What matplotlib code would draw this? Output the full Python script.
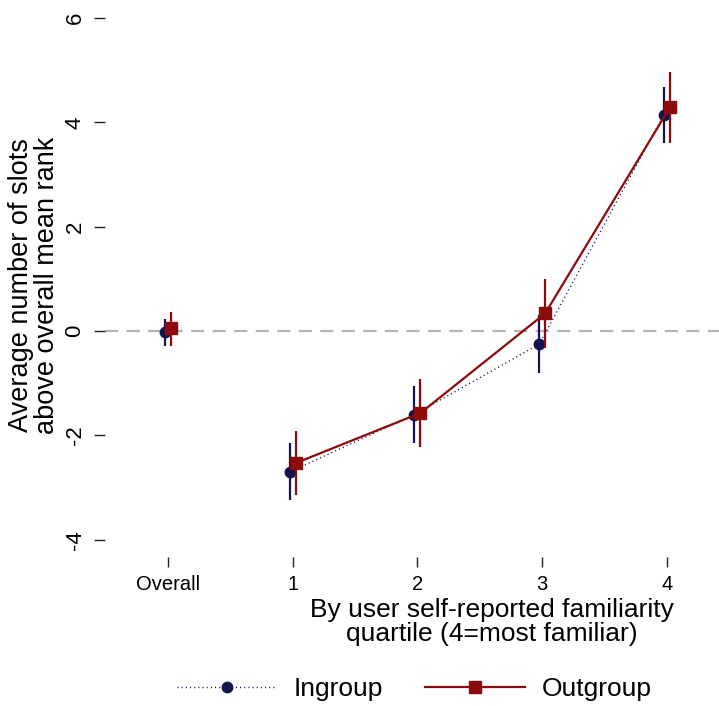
import matplotlib
matplotlib.use("Agg")
import matplotlib.pyplot as plt
from matplotlib.lines import Line2D
import numpy as np

plt.rcParams['font.family'] = ['Liberation Sans', 'DejaVu Sans']
plt.rcParams['lines.scale_dashes'] = False

# Categories: overall estimate plus four familiarity quartiles
categories = ["Overall", "1", "2", "3", "4"]

# Ingroup estimates with 95% confidence bounds
ingroup_mean = [-0.02, -2.70, -1.60, -0.25, 4.15]
ingroup_lo = [-0.29, -3.24, -2.15, -0.80, 3.60]
ingroup_hi = [0.24, -2.15, -1.05, 0.31, 4.68]

# Outgroup estimates with 95% confidence bounds
outgroup_mean = [0.05, -2.53, -1.57, 0.34, 4.29]
outgroup_lo = [-0.29, -3.14, -2.22, -0.33, 3.61]
outgroup_hi = [0.36, -1.92, -0.92, 1.00, 4.97]

yticks = [-4, -2, 0, 2, 4, 6]

NAVY = "#13134f"
MAROON = "#8c0a0a"
GRAY = "#b5b5b5"

W, H = 719, 706
fig = plt.figure(figsize=(W / 100, H / 100), dpi=100)
ax = fig.add_axes([105 / W, (H - 557) / H, (W - 105) / W, 557 / H])

pos = np.arange(len(categories), dtype=float)
off = 0.024
x_in = pos - off
x_out = pos + off

# Reference line at zero
ax.axhline(0, color=GRAY, lw=1.6, ls=(0, (9.5, 6.0)), zorder=1)

# Ingroup: confidence intervals, connecting dotted line over quartiles, markers
ax.vlines(x_in, ingroup_lo, ingroup_hi, color=NAVY, lw=1.6, zorder=2)
ax.plot(x_in[1:], ingroup_mean[1:], color=NAVY, lw=1.0, ls=(0, (0.8, 2.2)), zorder=2)
ax.plot(x_in, ingroup_mean, ls="none", marker="o", ms=7.5, color=NAVY, zorder=3)

# Outgroup: confidence intervals, solid line over quartiles, markers
ax.vlines(x_out, outgroup_lo, outgroup_hi, color=MAROON, lw=1.6, zorder=4)
ax.plot(x_out[1:], outgroup_mean[1:], color=MAROON, lw=1.6, zorder=4)
ax.plot(x_out, outgroup_mean, ls="none", marker="s", ms=8, color=MAROON, zorder=5)

ax.set_xlim(-0.505, 4.417)
ax.set_ylim(-4.33, 6.345)

for s in ax.spines.values():
    s.set_visible(False)

ax.set_xticks(pos)
ax.set_xticklabels(categories, fontsize=14.5)
ax.set_yticks(yticks)
ax.set_yticklabels([str(v) for v in yticks], fontsize=16, rotation=90, va="center")
ax.tick_params(axis="x", length=7, width=1, pad=6, color="#222222")
ax.tick_params(axis="y", length=8, width=1, pad=6, color="#222222")

fig.text(492 / W, 1 - 598 / H, "By user self-reported familiarity\nquartile (4=most familiar)",
         ha="center", va="top", fontsize=19, linespacing=1.0)
fig.text(34 / W, 1 - 285 / H, "Average number of slots\nabove overall mean rank",
         ha="center", va="center", rotation=90, fontsize=19.5, linespacing=1.02,
         multialignment="center")

handles = [
    Line2D([], [], color=NAVY, lw=1.0, ls=(0, (0.8, 2.2)), marker="o", ms=7.5),
    Line2D([], [], color=MAROON, lw=1.6, marker="s", ms=8),
]
fig.legend(handles, ["Ingroup", "Outgroup"], loc="center", bbox_to_anchor=(414 / W, 1 - 689 / H),
           ncol=2, frameon=False, fontsize=19, handlelength=3.8, handletextpad=0.62,
           columnspacing=1.6, borderpad=0, borderaxespad=0)

fig.savefig("out.png", dpi=100)
